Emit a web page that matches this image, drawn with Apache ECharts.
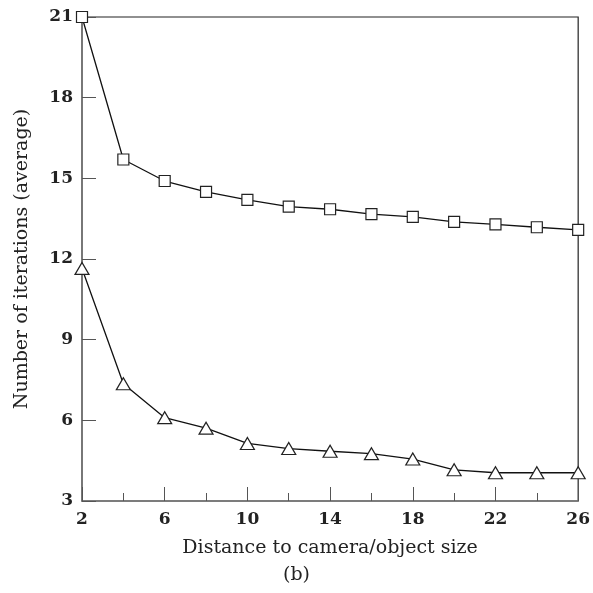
<!DOCTYPE html>
<html>

<head>
    <meta charset="utf-8" />
    <script src="https://cdn.jsdelivr.net/npm/echarts@6.0.0/dist/echarts.min.js"></script>
    <title>Iterations vs distance</title>
    <style>
        body { margin: 0; background: #fff; }
        #main-chart { width: 593px; height: 593px; }
    </style>
</head>

<body>
    <div id="main-chart"></div>
    <script type="text/javascript">
        // distance to camera / object size
        var distances = [2, 4, 6, 8, 10, 12, 14, 16, 18, 20, 22, 24, 26];
        // average iterations, square markers
        var squareIters = [21.0, 15.7, 14.9, 14.5, 14.2, 13.95, 13.85, 13.67, 13.57, 13.38, 13.29, 13.18, 13.08];
        // average iterations, triangle markers
        var triangleIters = [11.65, 7.36, 6.1, 5.71, 5.14, 4.95, 4.85, 4.76, 4.56, 4.16, 4.05, 4.05, 4.05];

        var serif = '"DejaVu Serif", "Liberation Serif", serif';

        function pairs(xs, ys) {
            return xs.map(function (x, i) { return [x, ys[i]]; });
        }

        var chart = echarts.init(document.getElementById('main-chart'));
        var option = {
            animation: false,
            title: {
                text: '(b)',
                left: 'center',
                bottom: 3,
                textStyle: { fontFamily: serif, fontSize: 19, fontWeight: 'normal', color: '#222' }
            },
            grid: {
                left: 82,
                right: 13,
                top: 17,
                bottom: 92,
                show: true,
                borderColor: '#222',
                borderWidth: 1.2
            },
            xAxis: {
                type: 'value',
                min: 2,
                max: 26,
                interval: 4,
                name: 'Distance to camera/object size',
                nameLocation: 'middle',
                nameGap: 38,
                nameTextStyle: { fontFamily: serif, fontSize: 19, color: '#222' },
                axisLine: { lineStyle: { color: '#777', width: 1.5 } },
                axisTick: { inside: true, length: 14, lineStyle: { color: '#555' } },
                minorTick: { show: true, splitNumber: 2, length: 8, lineStyle: { color: '#555' } },
                axisLabel: { fontFamily: serif, fontSize: 17, fontWeight: 'bold', color: '#222', margin: 10 },
                splitLine: { show: false }
            },
            yAxis: {
                type: 'value',
                min: 3,
                max: 21,
                interval: 3,
                name: 'Number of iterations (average)',
                nameLocation: 'middle',
                nameGap: 50,
                nameTextStyle: { fontFamily: serif, fontSize: 19, color: '#222' },
                axisLine: { lineStyle: { color: '#777', width: 1.5 } },
                axisTick: { inside: true, length: 14, lineStyle: { color: '#555' } },
                axisLabel: { fontFamily: serif, fontSize: 17, fontWeight: 'bold', color: '#222', margin: 9 },
                splitLine: { show: false }
            },
            series: [
                {
                    name: 'square',
                    type: 'line',
                    data: pairs(distances, squareIters),
                    symbol: 'rect',
                    symbolSize: 11,
                    lineStyle: { color: '#111', width: 1.3 },
                    itemStyle: { color: '#fff', borderColor: '#222', borderWidth: 1.2 }
                },
                {
                    name: 'triangle',
                    type: 'line',
                    data: pairs(distances, triangleIters),
                    symbol: 'triangle',
                    symbolSize: [14, 12],
                    lineStyle: { color: '#111', width: 1.3 },
                    itemStyle: { color: '#fff', borderColor: '#222', borderWidth: 1.2 }
                }
            ]
        };
        chart.setOption(option);
    </script>
</body>

</html>
